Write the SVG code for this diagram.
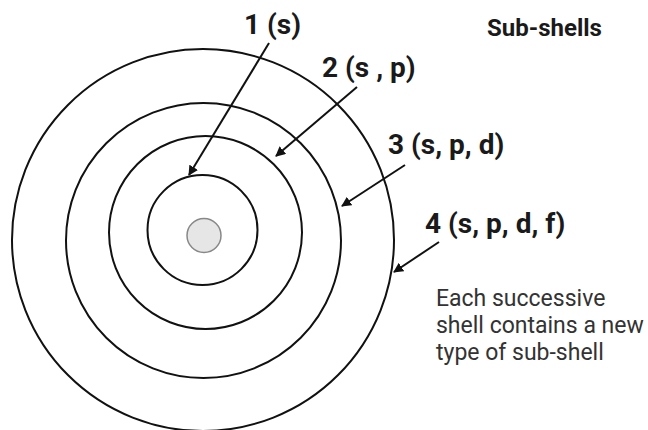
<svg xmlns="http://www.w3.org/2000/svg" width="648" height="430" viewBox="0 0 648 430">
<style>
.shell{fill:none;stroke:#111;stroke-width:2}
.lbl{font-family:Roboto,"Liberation Sans",sans-serif;font-weight:bold;font-size:28px;fill:#1a1a1a}
.hdr{font-family:Roboto,"Liberation Sans",sans-serif;font-weight:bold;font-size:24px;fill:#1a1a1a}
.note{font-family:Roboto,"Liberation Sans",sans-serif;font-size:23px;fill:#333}
.arr{stroke:#111;stroke-width:2;fill:none;marker-end:url(#ah)}
</style>
<defs>
<marker id="ah" viewBox="0 0 10 10" refX="9" refY="5" markerWidth="5" markerHeight="5" orient="auto" markerUnits="strokeWidth">
<path d="M0,0 L10,5 L0,10 z" fill="#111"/>
</marker>
</defs>
<rect width="648" height="430" fill="#fff"/>
<g id="shell4"><circle class="shell" cx="203" cy="240" r="191"/></g>
<g id="shell2"><circle class="shell" cx="203.5" cy="240.5" r="137.5"/></g>
<g id="shell3"><circle class="shell" cx="205.5" cy="232.5" r="96.5"/></g>
<g id="shell1"><circle class="shell" cx="202.5" cy="230" r="55"/></g>
<g id="nucleus"><circle cx="204" cy="235.5" r="17" fill="#e6e6e6" stroke="#888" stroke-width="1.5"/></g>
<g id="connectors">
<line class="arr" x1="269" y1="43" x2="189" y2="175"/>
<line class="arr" x1="357" y1="87" x2="276" y2="156"/>
<line class="arr" x1="405" y1="165" x2="342" y2="206"/>
<line class="arr" x1="439" y1="242" x2="394" y2="272"/>
</g>
<g id="label1"><text class="lbl" x="244" y="34">1 (s)</text></g>
<g id="label2"><text class="lbl" x="322" y="77">2 (s , p)</text></g>
<g id="label3"><text class="lbl" x="388" y="154">3 (s, p, d)</text></g>
<g id="label4"><text class="lbl" x="425" y="233">4 (s, p, d, f)</text></g>
<g id="title"><text class="hdr" x="487" y="36">Sub-shells</text></g>
<g id="note"><text class="note" x="436" y="306">Each successive</text><text class="note" x="436" y="333">shell contains a new</text><text class="note" x="436" y="360">type of sub-shell</text></g>
</svg>
